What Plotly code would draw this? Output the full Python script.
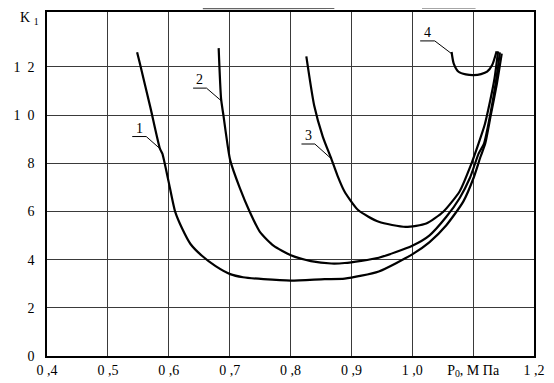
import plotly.graph_objects as go

# ---- data ----
c1_x = [0.548, 0.552, 0.570, 0.5855, 0.5895, 0.5995, 0.6105, 0.622, 0.6357, 0.655, 0.677, 0.7008, 0.722, 0.7555, 0.8006, 0.856, 0.889, 0.945, 1.000, 1.028, 1.056, 1.084, 1.101, 1.112, 1.120, 1.129, 1.139, 1.147]
c1_y = [12.61, 12.2, 10.3, 8.61, 8.40, 7.27, 5.99, 5.29, 4.65, 4.15, 3.73, 3.40, 3.27, 3.19, 3.13, 3.19, 3.21, 3.51, 4.22, 4.72, 5.43, 6.42, 7.41, 8.26, 8.83, 10.0, 11.3, 12.55]

c2_x = [0.682, 0.686, 0.690, 0.697, 0.701, 0.7165, 0.733, 0.750, 0.772, 0.8006, 0.8335, 0.867, 0.889, 0.945, 1.000, 1.028, 1.056, 1.078, 1.095, 1.109, 1.118, 1.128, 1.137, 1.144]
c2_y = [12.78, 10.67, 9.96, 8.69, 8.12, 6.99, 5.99, 5.14, 4.58, 4.18, 3.94, 3.84, 3.86, 4.08, 4.58, 5.0, 5.78, 6.56, 7.41, 8.40, 8.83, 10.0, 11.3, 12.6]

c3_x = [0.826, 0.839, 0.853, 0.867, 0.877, 0.8885, 0.911, 0.945, 0.989, 1.023, 1.051, 1.078, 1.095, 1.109, 1.119, 1.128, 1.135, 1.141]
c3_y = [12.44, 10.39, 9.11, 8.19, 7.5, 6.84, 6.06, 5.57, 5.36, 5.50, 5.99, 6.84, 7.84, 8.83, 9.6, 10.6, 11.5, 12.65]

c4_x = [1.0646, 1.068, 1.076, 1.088, 1.1008, 1.113, 1.123, 1.1315, 1.1386]
c4_y = [12.62, 12.15, 11.80, 11.69, 11.66, 11.70, 11.80, 12.09, 12.65]

curve_names = ["1", "2", "3", "4"]
label_x = [0.552, 0.651, 0.829, 1.025]
label_y = [9.11, 11.12, 8.80, 13.08]
leader_x = [[0.540, 0.563, 0.5855], [0.640, 0.662, 0.686], [0.818, 0.840, 0.867], [1.013, 1.037, 1.0646]]
leader_y = [[9.11, 9.11, 8.61], [11.12, 11.12, 10.60], [8.80, 8.80, 8.19], [13.08, 13.08, 12.55]]

x_ticks = [0.4, 0.5, 0.6, 0.7, 0.8, 0.9, 1.0, 1.1, 1.2]
x_ticktext = ["0 ,4", "0 ,5", "0 ,6", "0 ,7", "0 ,8", "0 ,9", "1 ,0",
              "P<sub>0</sub>,&nbsp;М&nbsp;Па", "1 ,2"]
y_ticks = [0, 2, 4, 6, 8, 10, 12]
y_ticktext = ["0", "2", "4", "6", "8", "1&nbsp;&nbsp;0", "1&nbsp;&nbsp;2"]

FONT = "Liberation Serif"

fig = go.Figure()
for xs, ys in zip([c1_x, c2_x, c3_x, c4_x], [c1_y, c2_y, c3_y, c4_y]):
    fig.add_trace(go.Scatter(x=xs, y=ys, mode="lines",
                             line=dict(color="black", width=2.2, shape="spline", smoothing=0.6),
                             hoverinfo="skip", showlegend=False))
for lx, ly in zip(leader_x, leader_y):
    fig.add_trace(go.Scatter(x=lx, y=ly, mode="lines", line=dict(color="black", width=1),
                             hoverinfo="skip", showlegend=False))
for name, tx, ty in zip(curve_names, label_x, label_y):
    fig.add_annotation(x=tx, y=ty, text=name, showarrow=False,
                       font=dict(family=FONT, size=14, color="black"), yanchor="bottom", yshift=-1)

fig.add_annotation(xref="paper", yref="paper", x=-0.059, y=1.012, text="K&nbsp;<sub>1</sub>",
                   showarrow=False, xanchor="left", yanchor="top",
                   font=dict(family=FONT, size=14, color="black"))

# faint scan streaks along the top edge
fig.add_shape(type="line", xref="paper", yref="paper", x0=0.32, x1=0.59, y0=1.010, y1=1.011,
              line=dict(color="#666", width=1.5))
fig.add_shape(type="line", xref="paper", yref="paper", x0=0.77, x1=0.88, y0=1.011, y1=1.011,
              line=dict(color="#888", width=1.2))

fig.update_xaxes(range=[0.4, 1.2], tickvals=x_ticks, ticktext=x_ticktext, automargin=False,
                 showgrid=True, gridcolor="#3a3a3a", gridwidth=1.3,
                 showline=True, linecolor="black", linewidth=1.5, mirror=True,
                 ticks="", zeroline=False,
                 tickfont=dict(family=FONT, size=14, color="black"))
fig.update_yaxes(range=[0, 14.28], tickvals=y_ticks, ticktext=y_ticktext, automargin=False,
                 showgrid=True, gridcolor="#3a3a3a", gridwidth=1.3,
                 showline=True, linecolor="black", linewidth=1.5, mirror=True,
                 ticks="outside", ticklen=8, tickcolor="rgba(0,0,0,0)", zeroline=False,
                 tickfont=dict(family=FONT, size=14, color="black"))

# page body adds an 8px offset, so the figure is sized to fit the 554x383 window
fig.update_layout(width=546, height=375, margin=dict(l=39, r=20, t=4, b=27, autoexpand=False),
                  plot_bgcolor="white", paper_bgcolor="white")

fig.write_html("out.html")
